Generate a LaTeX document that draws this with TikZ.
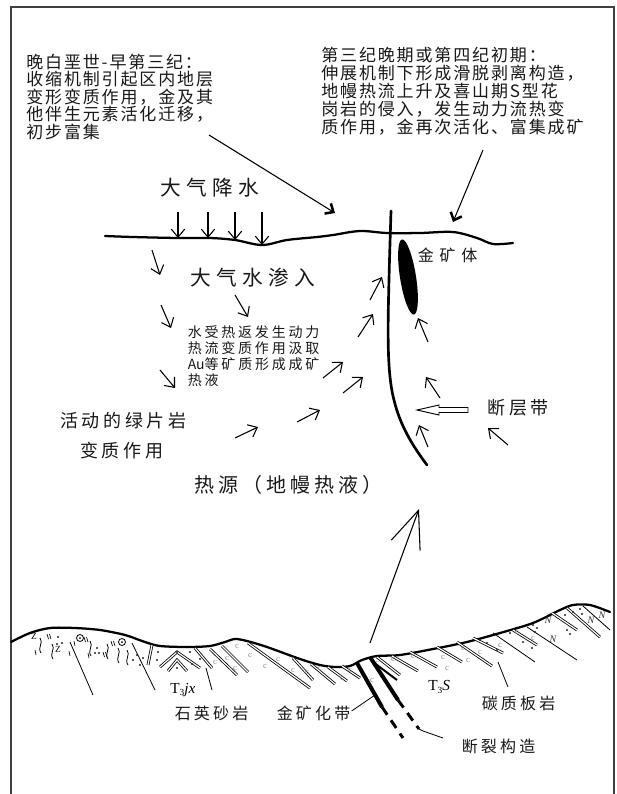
\documentclass[tikz,border=0pt]{standalone}
\usepackage{fontspec}
\setmainfont{Liberation Serif}
\newfontfamily\cjkNote[LetterSpace=11]{Noto Sans CJK SC}
\newfontfamily\cjkWide[LetterSpace=20]{Noto Sans CJK SC}
\newfontfamily\cjkBig[LetterSpace=26]{Noto Sans CJK SC}
\newfontfamily\cjkOre[LetterSpace=36]{Noto Sans CJK SC}
\newfontfamily\cjkPlain{Noto Sans CJK SC}
\usetikzlibrary{arrows.meta}

\begin{document}
\begin{tikzpicture}[x=0.75pt,y=-0.75pt,
  txt/.style={inner sep=0pt, anchor=west, text=black!90},
  noteline/.style={inner sep=0pt, anchor=base west, text=black!90, font=\fontsize{12.75pt}{14pt}\selectfont\cjkNote},
  smallline/.style={inner sep=0pt, anchor=base west, text=black!90, font=\fontsize{10.5pt}{12pt}\selectfont\cjkWide},
  flow/.style={line width=0.8pt, -{Straight Barb[length=6pt,width=10pt]}},
  pointer/.style={line width=0.8pt, -{Straight Barb[length=5pt,width=9pt,line width=1.9pt]}},
  surf/.style={line width=1.7pt, line cap=round, line join=round},
  fault/.style={line width=2pt, line cap=round},
  dline/.style={line width=0.6pt, double=white, double distance=0.9pt},
  leader/.style={line width=0.6pt},
  cmark/.style={inner sep=0pt, text=black!45, font=\fontsize{6.5pt}{7pt}\selectfont},
  nmark/.style={inner sep=0pt, text=black!80, font=\fontsize{7.5pt}{8pt}\selectfont\itshape},
  dot/.style={fill=black!85}
]
\useasboundingbox (0,0) rectangle (617,794);
\fill[white] (0,0) rectangle (617,794);
% frame
\draw[line width=1.1pt, black!75] (11,800) -- (11,7) -- (614,7) -- (614,800);

% ---------- explanatory notes ----------
\foreach \t [count=\i from 0] in {晚白垩世-早第三纪：, 收缩机制引起区内地层, 变形变质作用，金及其, 他伴生元素活化迁移，, 初步富集}
  \node[noteline] (early\i) at (26,68.5+17.4*\i) {\t};
\foreach \t [count=\i from 0] in {第三纪晚期或第四纪初期：, 伸展机制下形成滑脱剥离构造，, 地幔热流上升及喜山期S型花, 岗岩的侵入，发生动力流热变, 质作用，金再次活化、富集成矿}
  \node[noteline] (late\i) at (321,61.5+17.9*\i) {\t};

\coordinate (earlyTail) at (209,135);
\coordinate (earlyHead) at (335,213);
\coordinate (lateTail) at (483,150);
\coordinate (lateHead) at (453,222);
\draw[pointer] (earlyTail) -- (earlyHead);
\draw[pointer] (lateTail) -- (lateHead);

% ---------- upper section ----------
\draw[surf] plot[smooth, tension=0.55] coordinates {(105,236) (133,237) (178,238) (210,238) (235,240) (262,245) (287,240) (317,237) (333,235) (360,231) (387,233) (420,233) (453,232) (477,238) (493,244) (513,243)};

% fault
\draw[fault] (391,211) -- (389.5,260) .. controls (388,320) and (386,370) .. (394,400) .. controls (400,425) and (412,445) .. (427,465);

% gold ore body
\fill[rotate around={9:(408,277)}] (408,277) ellipse [x radius=8, y radius=38];

\node[txt, font=\fontsize{15.5pt}{17pt}\selectfont\cjkBig] (rain) at (160,187.5) {大气降水};
\node[txt, font=\fontsize{15.5pt}{17pt}\selectfont\cjkBig] (seep) at (190,277.5) {大气水渗入};
\node[smallline] (heated0) at (187.5,337.8) {水受热返发生动力};
\node[smallline] (heated1) at (187.5,353.6) {热流变质作用汲取};
\node[smallline] (heated2) at (187.5,369.4) {{\cjkPlain Au}等矿质形成成矿};
\node[smallline] (heated3) at (187.5,385.2) {热液};
\node[txt, font=\fontsize{13.5pt}{15pt}\selectfont\cjkWide] (green1) at (60,421) {活动的绿片岩};
\node[txt, font=\fontsize{13.5pt}{15pt}\selectfont\cjkWide] (green2) at (80,451) {变质作用};
\node[txt, font=\fontsize{15pt}{17pt}\selectfont\cjkWide] (source) at (194,485) {热源（地幔热液）};
\node[txt, font=\fontsize{12pt}{13pt}\selectfont\cjkOre] (orebody) at (417.5,255) {金矿体};
\node[txt, font=\fontsize{13.5pt}{15pt}\selectfont\cjkWide] (faultzone) at (487.5,408) {断层带};

% rainfall
\foreach \x/\y in {178/238, 208/238, 235/240, 262/245}
  \draw[flow] (\x,212) -- (\x,\y);

% meteoric water seeping down
\foreach \xa/\ya/\xb/\yb in {152/250/160/275, 235/295/248/317, 161/305/171/328, 160/370/175/388}
  \draw[flow] (\xa,\ya) -- (\xb,\yb);

% fluids rising towards the fault
\foreach \xa/\ya/\xb/\yb in {235/438/258/427, 297/422/320/410, 323/378/343/362, 343/393/363/377,
                   358/337/373/314, 370/300/382/277,
                   428/342/418/318, 440/398/426/377, 428/447/419/425, 508/445/488/428}
  \draw[flow] (\xa,\ya) -- (\xb,\yb);

% hollow arrow pointing at the fault
\draw[line width=0.7pt, fill=white, line join=miter] (417,410) -- (439,405) -- (439,407.5) -- (468,407.5) -- (468,412.5) -- (439,412.5) -- (439,415) -- cycle;

% heat source arrow
\coordinate (srcTail) at (370,643);
\coordinate (srcHead) at (419,509);
\draw[line width=0.8pt, -{Straight Barb[length=28pt,width=23pt]}] (srcTail) -- (srcHead);

% ---------- geological cross-section ----------
\draw[surf] plot[smooth, tension=0.5] coordinates {(11,642) (30,633) (50,628) (75,628) (100,630) (125,635) (145,642) (160,646) (187,647) (210,646) (225,642) (235,639) (247,641) (267,647) (300,659) (320,665) (335,667) (350,666) (362,660) (377,656) (400,655) (433,649) (467,642) (500,633) (533,623) (560,610) (573,605) (590,605) (610,612)};

% schist: wavy foliation and symbols
\foreach \x/\y in {40/638, 52/644, 90/641, 107/644, 118/648, 127/650}
  \draw[line width=0.6pt] (\x,\y) .. controls (\x+4,\y+5) and (\x-3,\y+9) .. (\x+1,\y+15);
\foreach \x/\y in {34/636, 58/649}
  \node[inner sep=0pt, font=\fontsize{7pt}{8pt}\selectfont] at (\x,\y) {Z};
\foreach \x/\y in {47/634, 84/637, 111/641, 103/652}
  \draw[line width=0.5pt] (\x,\y) -- (\x+1.5,\y+5) (\x+2.5,\y) -- (\x+4,\y+5);
\foreach \x/\y in {35/650, 69/651, 88/653, 74/641}
  \draw[line width=0.5pt] (\x,\y) -- (\x+1,\y+5);
\foreach \x/\y in {80/638, 122/642} {
  \draw[line width=0.6pt] (\x,\y) circle [radius=3.5];
  \fill (\x,\y) circle [radius=1];
}
\foreach \x/\y in {58/637, 62/643, 57/644, 95/653, 99/653, 97/648, 133/660, 137/655, 143/658, 140/665}
  \fill[dot] (\x,\y) circle [radius=1.1];

% quartz sandstone: anticline and bedding
\draw[dline] (152,645) -- (148,665);
\draw[dline] (160,667) -- (177,652) -- (200,668);
\draw[dline] (168,671) -- (177,660) -- (187,671);
\foreach \x/\y in {157/660, 158/652, 177/652, 190/652, 200/659, 177/668, 192/664}
  \fill[dot] (\x,\y) circle [radius=1.1];
\draw[dline] (195,648) -- (212,668);
\draw[dline] (210,649) -- (237,675);
\draw[dline] (222,646) -- (248,672);
\draw[dline] (248,643) -- (310,688);

% carbonaceous slate: bedding
\foreach \xa/\ya/\xb/\yb in {293/658/313/680, 311/664/335/684, 328/667/347/681, 342/666/360/678,
                   377/657/400/675, 392/656/418/671, 410/652/437/667, 437/647/462/662,
                   457/642/492/666, 473/638/503/653, 513/630/537/645, 552/613/577/630,
                   567/608/600/637}
  \draw[dline] (\xa,\ya) -- (\xb,\yb);
\foreach \xa/\ya/\xb/\yb in {493/633/535/662, 527/627/577/660, 583/606/610/630}
  \draw[leader] (\xa,\ya) -- (\xb,\yb);
\foreach \x/\y in {215/662, 227/658, 237/646, 235/668, 250/655, 265/666, 278/659, 293/670,
                307/672, 320/668, 342/678, 350/670, 372/680, 377/663, 393/659, 413/656,
                443/657, 463/648, 480/652, 447/668, 468/660, 517/632, 533/638, 500/645}
  \node[cmark] at (\x,\y) {c};
\foreach \x/\y in {480/640, 487/643, 497/650, 510/633, 523/642, 532/648, 533/625, 537/628,
                535/632, 567/630, 570/634, 565/615, 573/612, 580/609, 582/614}
  \fill[dot] (\x,\y) circle [radius=1.1];
\foreach \x/\y in {548/620, 553/639, 591/620, 602/615}
  \node[nmark] at (\x,\y) {N};

% mineralised zone and its fault continuation
\draw[line width=3pt] (357,663) -- (382,707);
\draw[line width=3pt] (370,657) -- (398,700);
\draw[line width=1.5pt] (373,662) -- (397,680);
\draw[line width=2.2pt, dash pattern=on 7pt off 5pt] (382,707) -- (403,738);
\draw[line width=2.2pt, dash pattern=on 7pt off 5pt] (398,700) -- (419,729);

% labels of the section
\node[inner sep=0pt, anchor=west, font=\fontsize{11.5pt}{12pt}\selectfont] (tjx) at (170,690) {T\raisebox{-0.35ex}{\fontsize{7pt}{8pt}\selectfont 3}\textit{jx}};
\node[inner sep=0pt, anchor=west, font=\fontsize{11.5pt}{12pt}\selectfont] (ts) at (428,687) {T\raisebox{-0.35ex}{\fontsize{7pt}{8pt}\selectfont 3}\textit{S}};
\node[txt, font=\fontsize{12pt}{13pt}\selectfont\cjkWide] (quartz) at (174.5,713) {石英砂岩};
\node[txt, font=\fontsize{12pt}{13pt}\selectfont\cjkWide] (orezone) at (276.5,713) {金矿化带};
\node[txt, font=\fontsize{12pt}{13pt}\selectfont\cjkWide] (slate) at (481.5,703) {碳质板岩};
\node[txt, font=\fontsize{12pt}{13pt}\selectfont\cjkWide] (fracture) at (461.5,746) {断裂构造};

\draw[leader] (70,642) -- (93,695);
\draw[leader] (132,643) -- (155,690);
\draw[leader] (206,668) -- (212,690);
\draw[leader] (orezone.east) ++(1,-2) -- (375,695);
\draw[leader] (419,729) -- (423,731) -- (443,738);
\draw[leader] (498,662) -- (508,687);
\end{tikzpicture}
\end{document}
